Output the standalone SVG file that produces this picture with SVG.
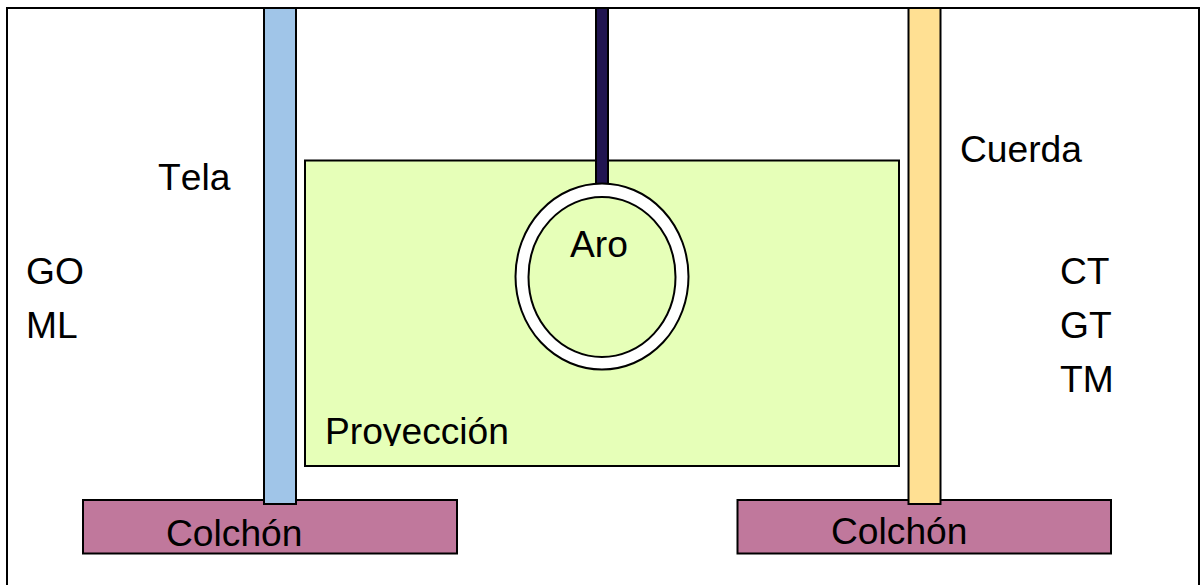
<svg xmlns="http://www.w3.org/2000/svg" width="1200" height="585" viewBox="0 0 1200 585">
<style>
.s{stroke:#000;stroke-width:2}
.t{font-family:"Liberation Sans",Arial,sans-serif;font-size:37.200px;fill:#000;font-kerning:none}
</style>
<defs><clipPath id="pc"><rect x="305" y="400" width="594" height="46"/></clipPath></defs>
<rect width="1200" height="585" fill="#fff"/>
<g id="frame"><rect x="7" y="8" width="1192" height="590" fill="#fff" class="s"/></g>
<g id="proyeccion"><rect x="305" y="160.500" width="594" height="305.500" fill="#e6ffb8" class="s"/><text class="t" x="325" y="444" clip-path="url(#pc)">Proyección</text></g>
<g id="colchon-izq"><rect x="83" y="500" width="374" height="53.500" fill="#c0789c" class="s"/><text class="t" x="166" y="546">Colchón</text></g>
<g id="colchon-der"><rect x="737.500" y="500" width="373.500" height="53.500" fill="#c0789c" class="s"/><text class="t" x="831" y="544">Colchón</text></g>
<g id="tela"><rect x="264" y="8" width="32" height="496" fill="#a0c5e8" class="s"/><text class="t" x="158" y="190">Tela</text></g>
<g id="cuerda"><rect x="908.500" y="8" width="32" height="496" fill="#ffe093" class="s"/><text class="t" x="960" y="162">Cuerda</text></g>
<g id="soporte"><rect x="596" y="8" width="12" height="176" fill="#211551" class="s"/></g>
<g id="aro"><path fill-rule="evenodd" d="M515.500 276.500a86.500 93 0 1 0 173 0a86.500 93 0 1 0-173 0ZM528.500 277a73.500 80 0 1 0 147 0a73.500 80 0 1 0-147 0Z" fill="#fff" class="s"/><text class="t" x="570" y="257">Aro</text></g>
<g id="izq"><text class="t" x="26" y="284">GO</text><text class="t" x="26" y="338">ML</text></g>
<g id="der"><text class="t" x="1060" y="284">CT</text><text class="t" x="1060" y="338">GT</text><text class="t" x="1060" y="392">TM</text></g>
</svg>
